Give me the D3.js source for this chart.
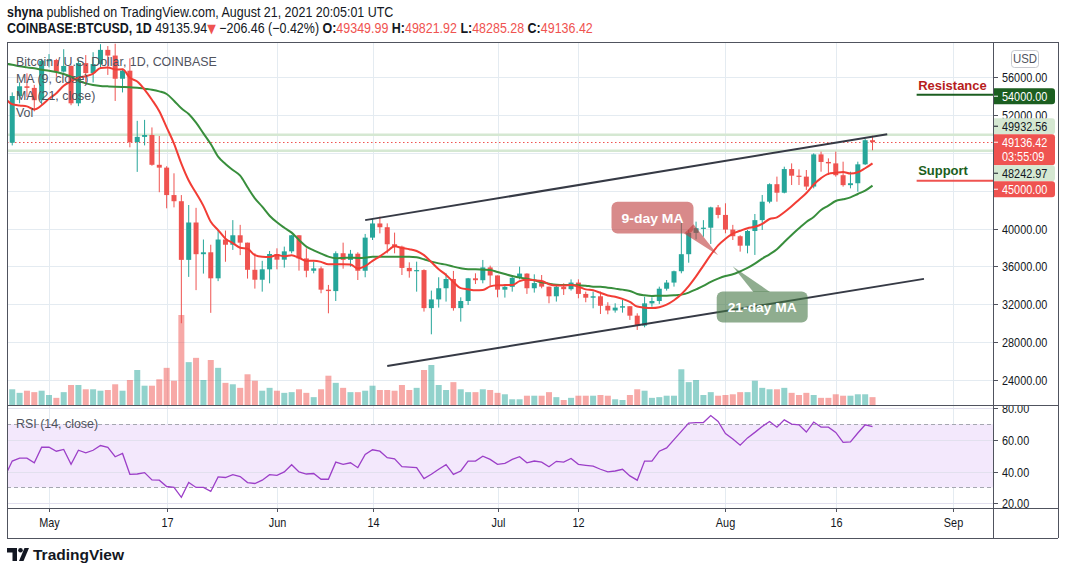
<!DOCTYPE html>
<html><head><meta charset="utf-8">
<script src="https://cdn.jsdelivr.net/npm/d3@7/dist/d3.min.js"></script>
<style>html,body{margin:0;padding:0;background:#fff;}svg{display:block;}</style>
</head><body>
<svg id="chart" width="1065" height="573"></svg>
<script>
// ================= DATA =================
const startDay = "2021-04-25"; // one candle per day from here
const openP = [
50100,49080,54020,55050,54880,53580,57750,57830,56600,57200,
53250,57500,56450,57400,58900,58300,55850,56700,49150,49700,
49900,46750,46450,43550,42900,36700,40650,37300,37500,34750,
38850,38300,39300,38520,35650,34600,35700,37320,36720,37600,
39300,36850,35550,35800,33550,33400,37400,36700,37350,35550,
39050,40550,40150,38350,38100,35850,35500,35620,31600,32520,
33700,34680,31600,32350,34750,34550,35900,35050,33550,33850,
34800,35250,33700,34250,33870,32850,33850,33600,34300,33100,
32700,32850,31850,31350,31650,31800,30800,29750,32100,32350,
33650,34300,35500,37300,39550,40050,40100,42250,41450,39900,
39200,38200,39750,40900,42850,44700,43800,46300,45600,45500,
44450,47850,47050,46900,45650,44600,44800,46800,49350];
const highP = [
50500,54400,55470,56420,55200,57950,58450,57950,58970,57250,
57950,58350,58650,59500,59300,59550,56900,58000,51400,51500,
50700,49800,46600,45850,43550,42500,42200,38850,38300,39900,
39800,40900,40400,38520,37400,36600,37640,37920,38100,39330,
39300,37920,36510,36000,34050,37600,38520,37750,37500,39440,
41090,41270,40560,39580,38200,36440,36510,35700,33450,34860,
35280,35530,32740,34790,35280,36690,36090,35050,34040,34930,
35980,35280,35170,35100,33870,34110,34220,34640,34640,33340,
33340,33340,32220,32110,32460,31800,31050,32810,32740,33870,
34570,35560,40740,39860,40740,40900,42320,42500,42680,40400,
39300,39860,41550,43560,44790,45500,46550,46900,46270,46200,
47960,48140,47430,48140,47080,46020,47080,49480,49820];
const lowP = [
47000,48800,53250,53900,52400,53100,57050,56050,56500,53050,
52950,55250,55450,56950,56250,53500,54400,48600,46000,48800,
46650,43850,42150,42250,30000,34900,33500,35250,31100,34450,
36500,37750,37200,34720,33660,33340,34220,35700,35880,37390,
35560,34860,35280,33170,31050,32350,35770,35980,34570,34860,
38800,39500,37390,37390,35100,34820,33340,31230,28830,31650,
32290,31330,30170,31930,34150,34220,33970,32740,32710,33340,
34640,33100,33240,33690,32110,32290,32990,33450,32640,32220,
31580,30980,30950,31120,31120,30350,29290,29570,31750,32040,
33450,33870,35280,36400,38870,39150,38380,41090,39510,38800,
37570,37390,37220,39860,42680,42850,43730,44610,44610,44090,
44260,46020,45670,45500,44440,44260,43910,46730,48285];
const closeP = [
49080,54020,55050,54880,53580,57750,57830,56600,57200,53250,
57500,56450,57400,58900,58300,55850,56700,49150,49700,49900,
46750,46450,43550,42900,36700,40650,37300,37500,34750,38850,
38300,39300,38520,35650,34600,35700,37320,36720,37600,39300,
36850,35550,35800,33550,33400,37400,36700,37350,35550,39050,
40550,40150,38350,38100,35850,35500,35620,31600,32520,33700,
34680,31600,32350,34750,34550,35900,35050,33550,33850,34800,
35250,33700,34250,33870,32850,33850,33600,34300,33100,32700,
32850,31850,31350,31650,31800,30800,29750,32100,32350,33650,
34300,35500,37300,39550,40050,40100,42250,41450,39900,39200,
38200,39750,40900,42850,44700,43800,46300,45600,45500,44450,
47850,47050,46900,45650,44600,44800,46800,49350,49136];
const volumeK = [
20,22,17,20,18,20,14,10,18,28,
28,22,22,20,21,29,20,35,49,27,
27,36,52,34,126,60,66,35,63,52,
31,29,24,43,34,20,24,20,17,18,
22,17,11,22,41,31,24,18,18,20,
27,21,21,20,28,21,24,49,56,28,
21,32,22,18,18,22,21,17,15,8,
8,13,13,13,18,11,7,10,13,13,
13,14,13,8,7,14,22,20,10,11,
13,13,50,32,35,14,18,13,14,15,
18,18,34,24,22,22,24,17,14,17,
14,10,10,15,13,13,15,15,11];
const ma9 = [
53811,53147,53019,52928,52603,53042,53723,54323,55112,55573,
55960,56116,56396,56987,57048,56828,56839,55944,55550,54706,
53628,52411,50706,48994,46867,45083,43767,42411,40728,39850,
38944,38472,37986,37869,37197,37019,36999,37218,37079,37190,
36918,36588,36604,36488,36232,36241,36239,36211,35794,36039,
36594,37078,37611,38133,37961,37828,37636,37197,36471,35710,
35102,34352,33713,33591,33486,33517,33900,34014,34031,34044,
34450,34600,34544,34469,34130,33997,34002,34052,33863,33580,
33486,33219,32939,32806,32578,32267,31761,31650,31611,31700,
31972,32433,33061,33922,34950,36094,37222,38233,38928,39472,
39772,40044,40194,40506,41022,41194,41733,42367,43067,43761,
44661,45344,45794,45900,45989,45822,45956,46383,46904];
const ma21 = [
57450,57330,57157,57050,56946,56805,56700,56558,56347,56065,
55642,55360,55184,55078,55043,55008,54973,54938,54902,54797,
54691,54515,54233,53530,52718,52119,51203,50076,48948,47610,
46835,46200,45600,44370,43206,42325,41370,40670,40100,39580,
38800,38100,37710,37360,37040,36865,36900,36935,36900,36935,
37040,37040,37040,37040,37040,37040,36970,36760,36512,36330,
36195,35984,35808,35702,35702,35667,35632,35420,35209,34997,
34821,34716,34540,34328,34187,34081,34046,34046,34011,33976,
33870,33870,33764,33659,33553,33412,33095,32954,32884,32919,
32919,32954,33025,33236,33588,33940,34363,34716,34997,35173,
35490,35843,36300,36830,37287,37816,38590,39331,40035,40705,
41233,41973,42431,42924,43100,43311,43664,44016,44545];
const rsi14 = [
36.9,46.7,48.5,48.5,45.6,55.4,55.4,52.9,54.0,44.6,
53.5,51.9,53.5,56.5,55.4,49.4,51.5,38.3,38.5,39.4,
34.8,34.6,30.6,30.0,23.8,33.1,30.0,30.0,27.5,36.7,
36.3,38.1,36.9,33.1,32.5,34.6,38.1,37.7,39.8,44.4,
39.8,38.5,38.8,35.2,35.2,46.0,44.6,45.6,42.5,50.8,
53.8,52.9,48.8,48.1,43.1,42.9,42.5,35.6,38.3,41.5,
44.4,38.3,40.4,46.7,46.7,49.8,47.7,44.6,45.2,47.7,
49.4,45.6,46.7,46.0,43.1,46.5,46.0,48.3,44.6,44.0,
43.5,41.5,39.8,40.4,41.5,37.3,34.6,46.7,46.7,52.9,
55.0,60.2,65.4,70.6,71.0,71.0,75.4,71.7,64.0,60.6,
56.7,61.3,64.8,68.5,71.7,68.1,72.7,70.0,69.6,65.0,
71.3,68.1,68.1,64.8,58.5,58.8,64.4,69.6,68.5];

const priceTicks = [24000,28000,32000,36000,40000,44000,48000,52000,56000];
const rsiTicks = [20,40,60,80];
const rsiBand = [30,70];
const dateTicks = [["2021-05-01","May"],["2021-05-17","17"],["2021-06-01","Jun"],["2021-06-14","14"],
  ["2021-07-01","Jul"],["2021-07-12","12"],["2021-08-01","Aug"],["2021-08-16","16"],["2021-09-01","Sep"]];
const hLevels = [49932.56, 48242.97];
const lastPrice = 49136.42;
const lastTimer = "03:55:09";
const channelUpper = [["2021-06-13",40900],["2021-08-23",49980]];
const channelLower = [["2021-06-16",25490],["2021-08-28",34690]];
const resistanceLevel = 54000, supportLevel = 45000, levelStart = "2021-08-27";
const axisBoxes = [
  {price:54000, text:"54000.00", fill:"#1b5e20", color:"#ffffff"},
  {price:49932.56, text:"49932.56", fill:"#d5e8d2", color:"#131722"},
  {price:49136.42, text:"49136.42", sub:lastTimer, fill:"#ef5350", color:"#ffffff"},
  {price:48242.97, text:"48242.97", fill:"#d5e8d2", color:"#131722"},
  {price:45000, text:"45000.00", fill:"#ef5350", color:"#ffffff"}
];

// ================= LAYOUT =================
const PL=7, PR=993, AXR=1058, MT=42, MB=405, RB=508, DB=538;
const FA="'Liberation Sans',Arial,sans-serif";
const UP="#26a69a", DN="#ef5350", GRID="#e4ebf1", FRAME="#50535e", TXT="#131722";
const NARROW = 0.87; // the reference uses a condensed face

const parse = d3.utcParse("%Y-%m-%d");
const days = openP.map((_,i)=>d3.utcDay.offset(parse(startDay), i));
const x = d3.scaleUtc().domain([parse("2021-05-01"), parse("2021-09-01")]).range([49, 953.4]);
const y = d3.scaleLinear().domain([24000,56000]).range([380,77.3]);
const yR = d3.scaleLinear().domain([20,80]).range([503.3,408.3]);
const yV = d3.scaleLinear().domain([0,140]).range([MB,305]);

function ntext(g, tx, ty, str, opts={}){
  const t = g.append("text").attr("transform",`translate(${tx},${ty}) scale(${opts.sx||NARROW},1)`)
    .attr("font-family",FA).attr("font-size",opts.size||12.5).attr("fill",opts.fill||TXT);
  if(opts.anchor) t.attr("text-anchor",opts.anchor);
  if(opts.weight) t.attr("font-weight",opts.weight);
  if(str!==null) t.text(str);
  return t;
}

const svg = d3.select("#chart");
svg.append("rect").attr("width",1065).attr("height",573).attr("fill","#fff");
const defs = svg.append("defs");
defs.append("clipPath").attr("id","cMain").append("rect").attr("x",PL).attr("y",MT).attr("width",PR-PL).attr("height",MB-MT);
defs.append("clipPath").attr("id","cRsi").append("rect").attr("x",PL).attr("y",MB).attr("width",PR-PL).attr("height",RB-MB);
defs.append("clipPath").attr("id","cPAx").append("rect").attr("x",PR).attr("y",MT).attr("width",AXR-PR).attr("height",MB-MT);
defs.append("clipPath").attr("id","cRAx").append("rect").attr("x",PR).attr("y",MB+1).attr("width",AXR-PR).attr("height",RB-MB-1);

// ---- grid ----
const grid = svg.append("g").attr("stroke",GRID).attr("stroke-width",1);
grid.selectAll(".hg").data(priceTicks).join("line").attr("x1",PL).attr("x2",PR)
  .attr("y1",d=>Math.round(y(d))+0.5).attr("y2",d=>Math.round(y(d))+0.5);
grid.selectAll(".vg").data(dateTicks).join("line").attr("y1",MT).attr("y2",RB)
  .attr("x1",d=>Math.round(x(parse(d[0])))+0.5).attr("x2",d=>Math.round(x(parse(d[0])))+0.5);

// ---- RSI pane ----
const rsiG = svg.append("g").attr("clip-path","url(#cRsi)");
rsiG.append("rect").attr("x",PL).attr("width",PR-PL).attr("y",yR(rsiBand[1])).attr("height",yR(rsiBand[0])-yR(rsiBand[1])).attr("fill","#f3e8fc");
rsiG.selectAll(".rg").data(rsiTicks).join("line").attr("x1",PL).attr("x2",PR)
  .attr("y1",d=>Math.round(yR(d))+0.5).attr("y2",d=>Math.round(yR(d))+0.5).attr("stroke","#e2e0ee");
rsiG.selectAll(".rd").data(rsiBand).join("line").attr("x1",PL).attr("x2",PR)
  .attr("y1",d=>Math.round(yR(d))+0.5).attr("y2",d=>Math.round(yR(d))+0.5)
  .attr("stroke","#a5a7b0").attr("stroke-dasharray","4,3");
rsiG.append("path").datum(rsi14).attr("fill","none").attr("stroke","#9c3fc8").attr("stroke-width",1.3)
  .attr("d", d3.line().x((d,i)=>x(days[i])).y(d=>yR(d)));

// ---- main pane ----
const main = svg.append("g").attr("clip-path","url(#cMain)");
main.selectAll(".vol").data(volumeK).join("rect")
  .attr("x",(d,i)=>x(days[i])-3).attr("width",6)
  .attr("y",d=>yV(d)).attr("height",d=>MB-yV(d))
  .attr("fill",(d,i)=>closeP[i]>=openP[i]?"rgba(38,166,154,0.5)":"rgba(239,83,80,0.5)");
main.selectAll(".hl").data(hLevels).join("line").attr("x1",PL).attr("x2",PR)
  .attr("y1",d=>y(d)).attr("y2",d=>y(d)).attr("stroke","#d5e8d2").attr("stroke-width",2.5);
main.append("line").attr("x1",PL).attr("x2",PR).attr("y1",Math.round(y(lastPrice))+0.5).attr("y2",Math.round(y(lastPrice))+0.5)
  .attr("stroke",DN).attr("stroke-dasharray","1.5,2.5");
const cg = main.append("g");
closeP.forEach((c,i)=>{
  const o=openP[i], col = c>=o?UP:DN, cx = x(days[i]);
  cg.append("line").attr("x1",cx).attr("x2",cx).attr("y1",y(highP[i])).attr("y2",y(lowP[i])).attr("stroke",col).attr("stroke-width",1);
  const t=y(Math.max(o,c)), b=y(Math.min(o,c));
  cg.append("rect").attr("x",cx-2.5).attr("width",5).attr("y",t).attr("height",Math.max(1.2,b-t)).attr("fill",col);
});
main.append("path").datum(ma21).attr("fill","none").attr("stroke","#388e3c").attr("stroke-width",2)
  .attr("d", d3.line().curve(d3.curveMonotoneX).x((d,i)=>x(days[i])).y(d=>y(d)));
main.append("path").datum(ma9).attr("fill","none").attr("stroke","#f23d35").attr("stroke-width",2)
  .attr("d", d3.line().curve(d3.curveMonotoneX).x((d,i)=>x(days[i])).y(d=>y(d)));
[channelUpper, channelLower].forEach(ch=>{
  main.append("line").attr("x1",x(parse(ch[0][0]))).attr("y1",y(ch[0][1]))
    .attr("x2",x(parse(ch[1][0]))).attr("y2",y(ch[1][1])).attr("stroke","#363a45").attr("stroke-width",2);
});
const callouts = [
  {text:"9-day MA", tip:["2021-07-31",37200], box:[-106.6,-53.3,82,31.6], tail:[[-34,-21.7],[-24.6,-31]], fill:"rgba(190,60,60,0.6)", tl:62},
  {text:"21-day MA", tip:["2021-08-02",36000], box:[-16.1,25,91,31], tail:[[20.5,25.5],[37.2,25.5]], fill:"rgba(68,118,68,0.6)", tl:69}
];
callouts.forEach(c=>{
  const tx=x(parse(c.tip[0])), ty=y(c.tip[1]);
  const g = main.append("g");
  const pts = [[tx,ty],[tx+c.tail[0][0],ty+c.tail[0][1]],[tx+c.tail[1][0],ty+c.tail[1][1]]];
  g.append("polygon").attr("points",pts.map(p=>p.join(",")).join(" ")).attr("fill",c.fill);
  g.append("rect").attr("x",tx+c.box[0]).attr("y",ty+c.box[1]).attr("width",c.box[2]).attr("height",c.box[3])
    .attr("rx",6).attr("fill",c.fill);
  g.append("text").attr("x",tx+c.box[0]+c.box[2]/2).attr("y",ty+c.box[1]+c.box[3]/2+5)
    .attr("text-anchor","middle").attr("fill","#fff").attr("font-family",FA).attr("font-weight","bold")
    .attr("font-size",13.5).attr("textLength",c.tl).attr("lengthAdjust","spacingAndGlyphs").text(c.text);
});
const lx = x(parse(levelStart));
main.append("line").attr("x1",lx).attr("x2",PR).attr("y1",y(resistanceLevel)-1.5).attr("y2",y(resistanceLevel)-1.5).attr("stroke","#1b5e20").attr("stroke-width",2);
main.append("line").attr("x1",lx).attr("x2",PR).attr("y1",y(supportLevel)-0.5).attr("y2",y(supportLevel)-0.5).attr("stroke",DN).attr("stroke-width",2);
main.append("text").attr("x",lx+1.5).attr("y",y(resistanceLevel)-6).attr("fill","#b71c1c").attr("font-family",FA)
  .attr("font-weight","bold").attr("font-size",13).text("Resistance");
main.append("text").attr("x",lx+1.5).attr("y",y(supportLevel)-6.5).attr("fill","#1b5e20").attr("font-family",FA)
  .attr("font-weight","bold").attr("font-size",13).text("Support");
const leg = svg.append("g");
[["Bitcoin / U.S. Dollar, 1D, COINBASE",66],["MA (9, close)",83],["MA (21, close)",100],["Vol",117],["RSI (14, close)",428]].forEach(t=>{
  ntext(leg, 16, t[1], t[0], {size:13.5, fill:"#50535e", sx:0.92});
});

// ---- frame ----
const fr = svg.append("g").attr("stroke",FRAME).attr("stroke-width",1);
[[PL,MT+0.5,AXR,MT+0.5],[PL,MB+0.5,AXR,MB+0.5],[PL,RB+0.5,AXR,RB+0.5],[PL,DB+0.5,AXR,DB+0.5],
 [PL+0.5,MT,PL+0.5,DB],[PR+0.5,MT,PR+0.5,DB],[AXR+0.5,MT,AXR+0.5,DB]].forEach(l=>{
  fr.append("line").attr("x1",l[0]).attr("y1",l[1]).attr("x2",l[2]).attr("y2",l[3]);
});

// ---- price axis ----
const pax = svg.append("g").attr("clip-path","url(#cPAx)");
const boxes = axisBoxes.map(b=>({...b, h:b.sub?31:16, top:y(b.price)-8}));
const anchor = boxes.find(b=>b.sub);
let lim = anchor.top;
boxes.filter(b=>b.price>anchor.price).sort((a,b)=>a.price-b.price).forEach(b=>{ if(b.top+b.h>lim) b.top=lim-b.h; lim=b.top; });
lim = anchor.top+anchor.h;
boxes.filter(b=>b.price<anchor.price).sort((a,b)=>b.price-a.price).forEach(b=>{ if(b.top<lim) b.top=lim; lim=b.top+b.h; });
priceTicks.forEach(p=>{
  const yy=Math.round(y(p))+0.5;
  pax.append("line").attr("x1",PR).attr("x2",PR+5).attr("y1",yy).attr("y2",yy).attr("stroke",FRAME);
  const covered = boxes.some(b=>yy-4>=b.top && yy+4<=b.top+b.h);
  if(!covered) ntext(pax, PR+9, yy+4.3, d3.format(".2f")(p));
});
boxes.forEach(b=>{
  pax.append("path").attr("fill",b.fill)
    .attr("d",`M${PR+1},${b.top}H${PR+59}a3,3 0 0 1 3,3V${b.top+b.h-3}a3,3 0 0 1 -3,3H${PR+1}Z`);
  pax.append("line").attr("x1",PR+1).attr("x2",PR+5).attr("y1",b.top+8).attr("y2",b.top+8).attr("stroke",b.color);
  ntext(pax, PR+9, b.top+12.3, b.text, {fill:b.color});
  if(b.sub) ntext(pax, PR+9, b.top+27, b.sub, {fill:b.color});
});
svg.append("rect").attr("x",1011.5).attr("y",50.5).attr("width",27).attr("height",17).attr("rx",3)
  .attr("fill","#fff").attr("stroke","#c8cad0");
ntext(svg, 1025, 63, "USD", {anchor:"middle", size:12, fill:"#50535e", sx:0.95});

// ---- RSI axis ----
const rax = svg.append("g").attr("clip-path","url(#cRAx)");
rsiTicks.forEach(v=>{
  const yy=Math.round(yR(v))+0.5;
  rax.append("line").attr("x1",PR).attr("x2",PR+5).attr("y1",yy).attr("y2",yy).attr("stroke",FRAME);
  ntext(rax, PR+9, yy+4.3, d3.format(".2f")(v));
});

// ---- date axis ----
const dax = svg.append("g");
dateTicks.forEach(d=>{
  const xx=Math.round(x(parse(d[0])))+0.5;
  dax.append("line").attr("x1",xx).attr("x2",xx).attr("y1",RB).attr("y2",RB+4).attr("stroke",FRAME);
  ntext(dax, xx, 527, d[1], {anchor:"middle"});
});

// ---- header ----
const h1 = ntext(svg, 7, 17, null, {size:14.5, sx:0.86});
h1.append("tspan").attr("font-weight","bold").text("shyna");
h1.append("tspan").text(" published on TradingView.com, August 21, 2021 20:05:01 UTC");
const h2 = ntext(svg, 7, 33, null, {size:14.5, sx:0.86});
h2.append("tspan").attr("font-weight","bold").text("COINBASE:BTCUSD, 1D");
h2.append("tspan").text(" 49135.94");
h2.append("tspan").attr("fill",DN).attr("font-family","'DejaVu Sans',sans-serif").attr("font-size",13).text("▼");
h2.append("tspan").text(" −206.46 (−0.42%) ");
[["O:","49349.99"],["H:","49821.92"],["L:","48285.28"],["C:","49136.42"]].forEach((p,i)=>{
  h2.append("tspan").attr("font-weight","bold").text((i?" ":"")+p[0]);
  h2.append("tspan").attr("fill",DN).text(p[1]);
});

// ---- footer logo ----
const lg = svg.append("g").attr("fill","#131722");
lg.append("path").attr("d","M7,548H17V561H12.5V552.5H7Z");
lg.append("circle").attr("cx",20.5).attr("cy",550.3).attr("r",2.3);
lg.append("path").attr("d","M19,561L24.5,548H29L23.5,561Z");
svg.append("text").attr("x",33).attr("y",560).attr("font-family",FA).attr("font-weight","bold")
  .attr("font-size",15.5).attr("fill","#131722").text("TradingView");
</script>
</body></html>
